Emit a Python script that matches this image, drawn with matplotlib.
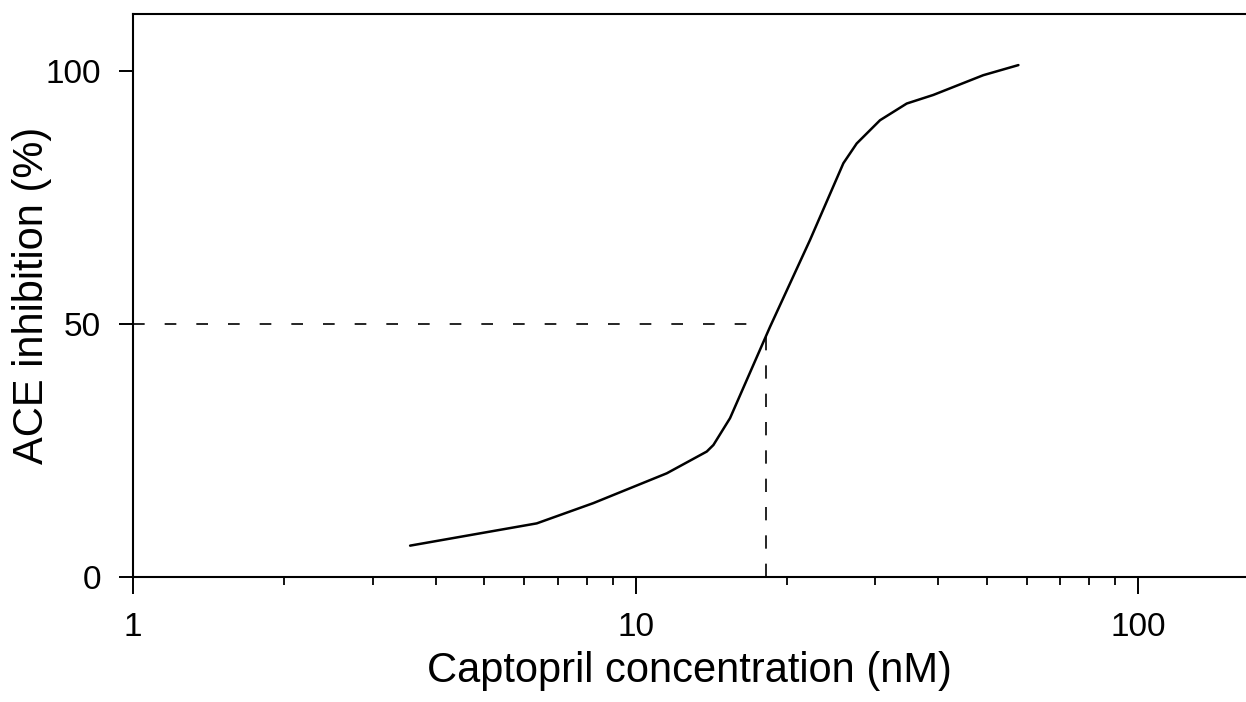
import numpy as np
import matplotlib
matplotlib.use('Agg')
import matplotlib.pyplot as plt
from matplotlib.ticker import LogLocator, FixedLocator, NullFormatter

plt.rcParams['font.family'] = ['Liberation Sans', 'DejaVu Sans']

# curve
conc = [3.56, 6.36, 8.24, 11.54, 13.86, 14.29, 15.42, 16.64, 18.53,
        22.24, 25.92, 27.55, 30.66, 34.65, 39.14, 49.2, 57.8]
inhib = [6.2, 10.6, 14.6, 20.5, 24.8, 26.1, 31.4, 38.9, 49.5,
         66.6, 81.8, 85.7, 90.3, 93.6, 95.3, 99.2, 101.2]

ic50 = 18.2
half = 50
xticks = [1, 10, 100]
yticks = [0, 50, 100]

fig = plt.figure(figsize=(12.46, 7.02), dpi=100)
ax = fig.add_axes([133/1246, 1-577/702, 1-133/1246, (577-14)/702])

ax.plot(conc, inhib, color='black', lw=1.8, solid_capstyle='round')
# IC50 guide lines
ax.plot([1, ic50], [half, half], color='black', lw=1.2, dashes=(7, 12))
ax.plot([ic50, ic50], [0, half], color='black', lw=1.2, dashes=(8, 9))

ax.set_xscale('log')
ax.set_xlim(1, 164)
ax.set_ylim(0, 111.3)

ax.xaxis.set_major_locator(FixedLocator(xticks))
ax.set_xticklabels(['1', '10', '100'])
ax.xaxis.set_minor_locator(LogLocator(base=10, subs=np.arange(2, 10)))
ax.xaxis.set_minor_formatter(NullFormatter())
ax.set_yticks(yticks)
ax.set_yticklabels(['0', '50', '100'])

ax.spines['right'].set_visible(False)
for s in ['left', 'bottom', 'top']:
    ax.spines[s].set_linewidth(1.5)

ax.tick_params(axis='x', which='major', direction='out', length=12, width=1.4,
               pad=13, labelsize=24)
ax.tick_params(axis='x', which='minor', direction='out', length=6, width=1.3)
ax.tick_params(axis='y', which='major', direction='out', length=10, width=1.4,
               pad=13, labelsize=24)

ax.set_xlabel('Captopril concentration (nM)', fontsize=30, labelpad=6)
ax.set_ylabel('ACE inhibition (%)', fontsize=30)
ax.yaxis.set_label_coords(-0.0728, 0.5)

fig.savefig('out.png', dpi=100)
